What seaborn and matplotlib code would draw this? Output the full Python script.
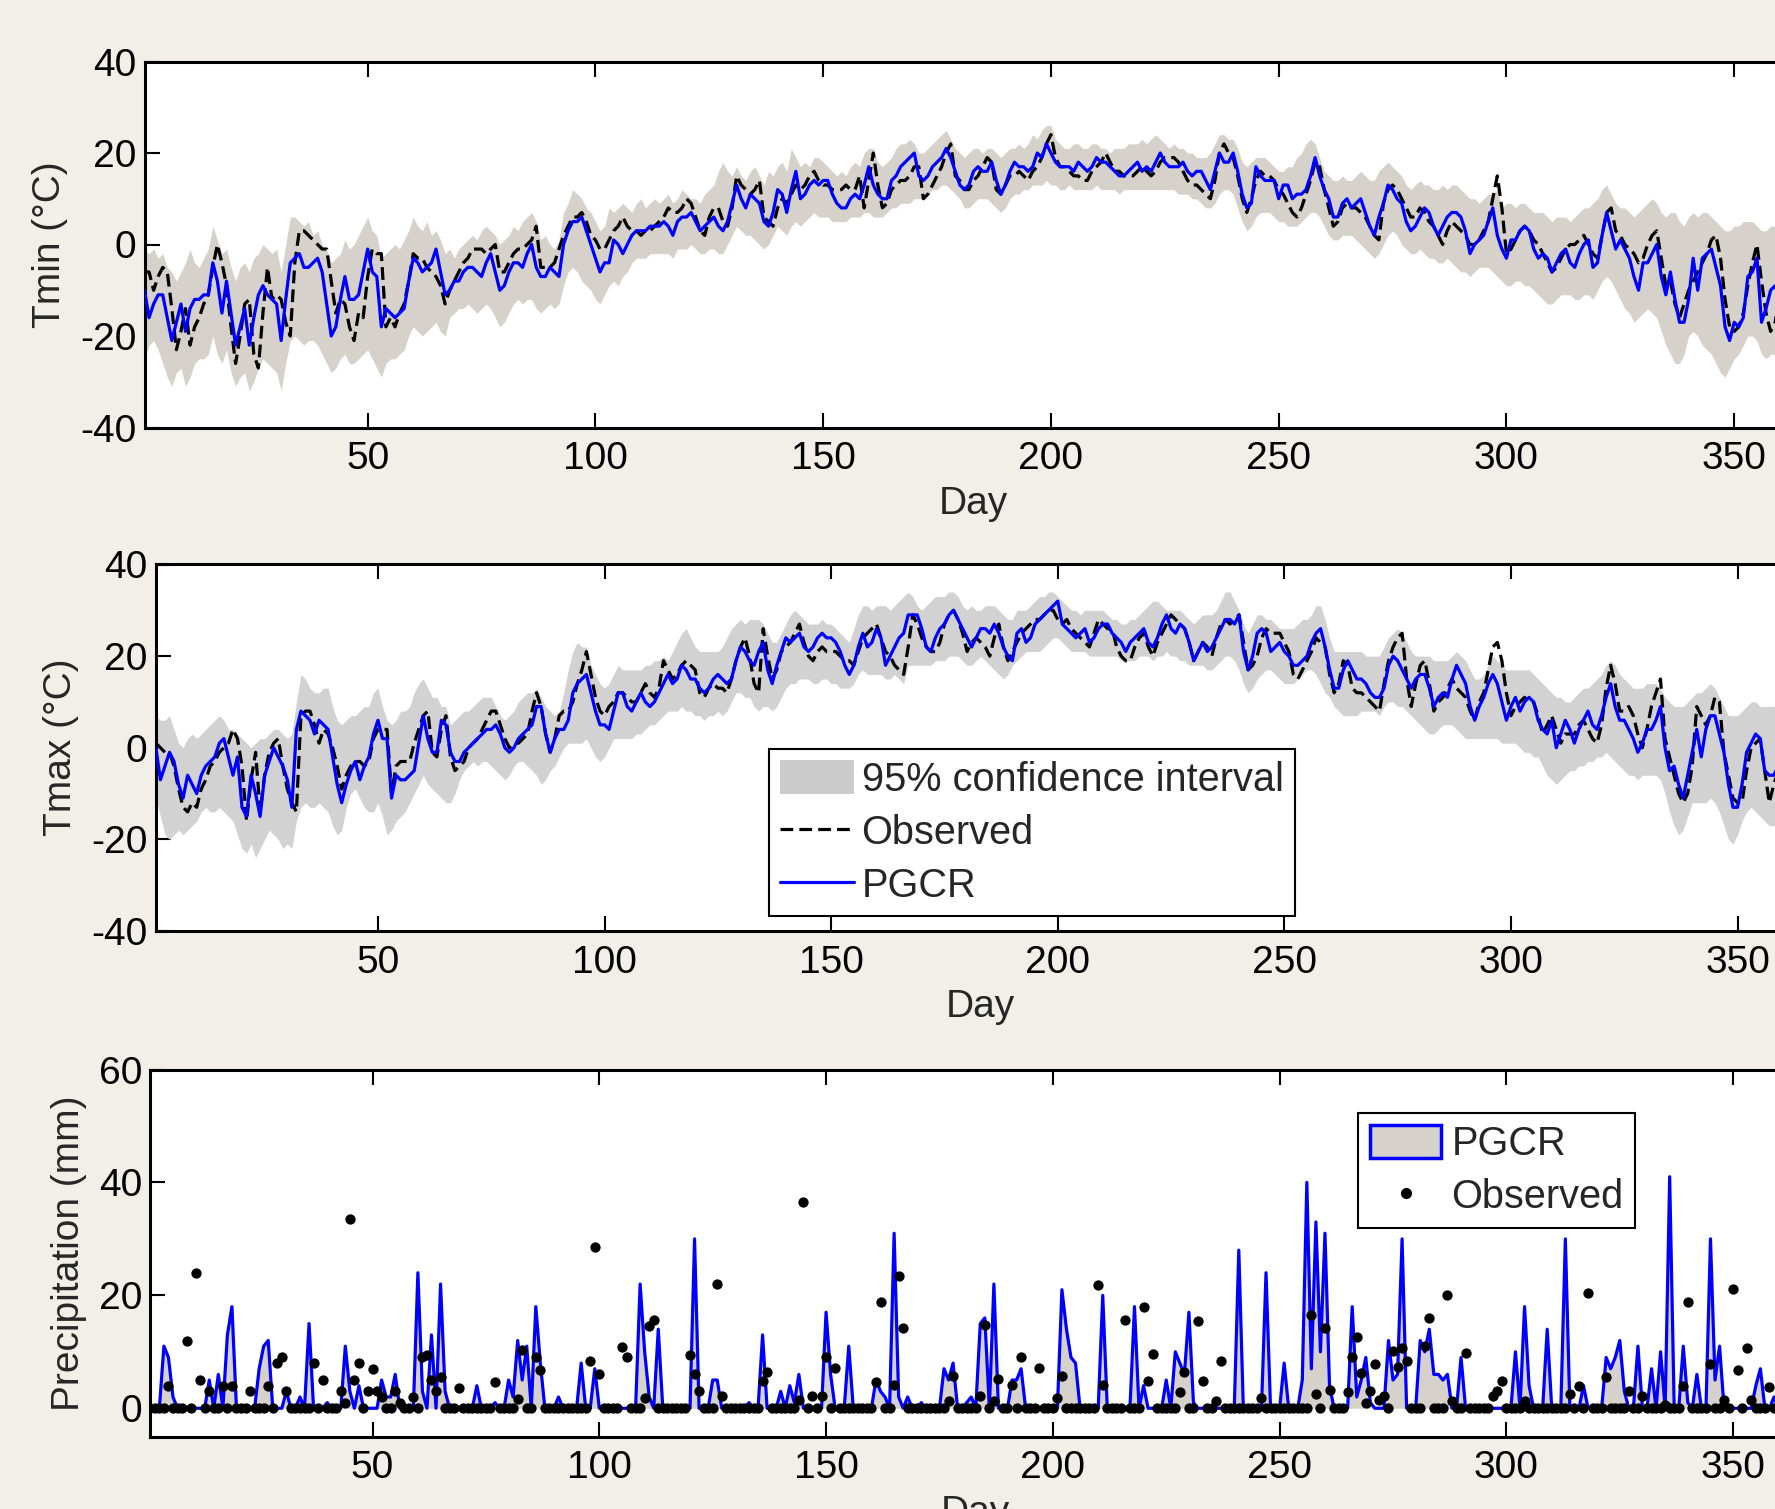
import numpy as np
import pandas as pd
import matplotlib
matplotlib.use('Agg')
import matplotlib.pyplot as plt
import seaborn as sns
from matplotlib.patches import Patch
from matplotlib.lines import Line2D

# ---- daily values (day 1 .. 365) ----
tmin_pgcr = [
    -10,-16,-13,-11,-11,-16,-21,-17,-13,-19,-14,-12,-12,-11,-11,-4,-8,-15,-8,-15,
    -22,-18,-14,-22,-16,-11,-9,-11,-12,-13,-21,-12,-4,-3,-2,-5,-5,-4,-3,-6,
    -13,-20,-18,-12,-7,-12,-12,-11,-6,-1,-6,-7,-18,-14,-15,-16,-15,-14,-8,-3,
    -4,-6,-5,-4,-1,-6,-11,-10,-8,-8,-6,-5,-5,-6,-7,-4,-2,-6,-10,-9,
    -6,-4,-4,-5,-2,0,-5,-7,-7,-5,-6,-7,0,3,5,5,6,3,0,-3,
    -6,-4,-4,1,0,-2,0,2,3,3,3,4,4,4,5,4,2,5,6,6,
    7,5,3,4,5,6,4,3,5,9,13,10,8,11,10,9,5,4,7,12,
    11,7,12,16,10,11,13,14,13,14,14,11,9,8,8,10,11,10,13,17,
    13,11,10,10,14,15,17,18,19,20,15,14,15,17,18,19,21,19,16,13,
    12,13,16,17,16,16,18,14,11,13,16,18,17,17,16,17,20,19,22,20,
    18,17,17,17,16,18,17,16,17,19,18,18,17,16,15,15,16,17,18,16,
    17,16,18,20,18,17,17,17,18,16,15,16,16,14,12,16,20,18,18,20,
    16,11,8,9,17,15,14,14,14,10,13,13,10,11,11,12,15,19,15,12,
    10,6,6,9,10,8,9,10,7,4,2,6,9,13,12,10,9,5,3,4,
    6,8,7,4,2,4,6,7,7,6,3,-2,0,1,2,5,8,2,-1,-3,
    1,1,3,4,3,-1,-3,-2,-3,-6,-4,-2,-1,-4,-5,-2,0,1,-5,-4,
    2,7,3,-1,1,-1,-3,-7,-10,-4,-4,-2,0,-7,-11,-6,-12,-17,-17,-12,
    -3,-10,-3,-2,-1,-5,-9,-18,-21,-17,-18,-16,-7,-6,-3,-17,-14,-10,-9,-12,
    -14,-12,-10,-11,-12]

tmin_obs = [
    -6,-6,-10,-7,-5,-6,-14,-23,-19,-14,-22,-18,-16,-13,-11,-5,0,-4,-9,-18,
    -26,-20,-13,-12,-24,-27,-15,-5,-12,-11,-12,-17,-20,-4,3,3,2,1,0,-1,
    -1,-8,-15,-12,-13,-18,-21,-15,-16,-7,-1,-2,-2,-18,-16,-18,-15,-13,-8,-2,
    -3,-3,-5,-6,-7,-9,-13,-10,-8,-6,-4,-3,-1,-1,-1,-2,-1,0,-6,-6,
    -4,-2,-1,-1,0,1,4,-5,-5,-5,-4,-1,2,4,6,6,7,5,2,1,
    -1,-1,1,3,4,6,4,3,3,2,3,3,4,5,6,8,7,7,8,10,
    9,6,3,2,6,8,8,5,4,8,15,13,12,11,12,14,6,5,4,8,
    10,9,11,13,12,13,15,16,14,13,13,12,12,12,13,12,12,15,8,14,
    20,13,8,9,12,13,14,14,15,17,17,10,11,13,15,17,20,22,15,14,
    12,12,14,15,17,19,18,12,11,13,15,15,16,15,14,16,17,19,22,24,
    19,17,17,16,15,15,14,14,16,17,18,20,18,16,16,15,15,15,16,17,
    16,15,16,18,19,19,19,18,16,14,13,13,12,11,10,14,20,22,20,19,
    15,10,7,10,14,16,15,15,14,12,11,9,7,6,8,11,14,18,17,12,
    8,4,5,8,9,8,8,7,6,4,2,1,9,12,13,12,10,8,6,6,
    8,7,5,4,2,0,3,5,4,3,2,0,0,1,3,5,10,15,8,-2,
    -1,1,3,4,3,1,0,-2,-4,-6,-5,-3,-1,0,0,1,2,0,-2,-3,
    2,7,8,3,2,0,-1,-2,-4,-3,0,2,3,-3,-9,-8,-13,-16,-13,-10,
    -8,-6,-4,-2,1,2,-3,-12,-18,-19,-18,-15,-9,-4,0,-8,-15,-19,-17,-10,
    -12,-13,-11,-10,-11]

tmin_hi = [
    -1,-2,-1,-3,-2,-5,-6,-8,-6,-4,-1,-4,-5,-3,-1,4,1,-2,-1,-5,
    -8,-5,-4,-6,-3,-2,0,-1,-2,-1,-6,0,6,6,5,4,5,2,3,0,
    -1,-4,-3,-2,1,-1,0,2,4,6,3,2,-3,-2,-1,0,-1,1,3,6,
    4,3,5,2,3,1,-2,-1,-3,-1,0,1,2,1,3,4,3,2,0,1,
    2,4,3,5,6,7,5,1,2,0,-1,1,7,9,12,11,10,8,7,5,
    3,4,8,7,8,9,8,7,9,10,8,9,10,9,10,11,9,10,12,11,
    10,10,9,11,12,13,16,18,16,15,17,15,14,16,17,15,13,16,15,17,
    18,16,21,19,17,18,17,19,19,18,17,16,15,16,15,17,18,17,20,21,
    21,18,17,18,19,21,22,22,23,22,20,20,21,22,23,24,25,23,21,20,
    19,20,21,21,20,21,21,20,19,20,21,21,22,21,22,24,23,25,26,26,
    23,22,21,21,22,22,21,21,22,22,21,21,20,21,21,21,22,22,22,23,
    22,23,24,23,22,21,22,21,21,20,20,19,19,19,20,22,24,24,23,23,
    21,18,17,18,19,19,19,18,17,16,16,17,17,19,20,22,23,22,19,16,
    15,14,14,15,14,14,15,16,15,14,14,16,17,18,17,16,15,13,12,13,
    14,13,13,12,12,13,12,13,13,12,11,10,10,9,10,11,11,12,8,9,
    9,8,9,9,8,7,7,7,6,5,6,6,6,5,6,7,8,8,9,10,
    12,13,11,9,8,8,7,6,7,8,9,10,9,7,6,7,7,5,4,6,
    7,6,7,7,6,5,4,3,3,4,4,5,5,5,4,3,3,4,4,3,
    3,3,3,3,3]

tmin_lo = [
    -25,-22,-21,-23,-26,-29,-31,-28,-27,-31,-29,-26,-25,-25,-24,-20,-24,-26,-23,-28,
    -31,-29,-28,-32,-30,-27,-25,-26,-27,-28,-32,-26,-21,-20,-21,-22,-21,-21,-22,-24,
    -26,-28,-27,-25,-24,-26,-26,-25,-24,-23,-25,-27,-29,-26,-25,-25,-24,-23,-20,-18,
    -19,-20,-19,-18,-17,-19,-20,-16,-15,-14,-14,-13,-14,-15,-14,-13,-14,-16,-18,-17,
    -15,-13,-12,-13,-12,-12,-14,-15,-14,-13,-14,-13,-9,-6,-5,-6,-8,-9,-10,-12,
    -13,-11,-9,-8,-9,-7,-6,-4,-3,-3,-3,-2,-2,-2,-2,-2,-3,-1,-1,-1,
    0,-1,-2,-2,-1,-1,-2,-2,0,2,4,3,2,2,1,0,-1,0,2,4,
    3,2,4,5,4,5,6,7,6,6,6,5,5,5,5,6,6,6,7,7,
    6,6,6,7,8,8,9,9,9,10,10,10,11,12,12,13,13,12,11,10,
    8,8,9,10,10,10,9,8,7,8,10,11,11,12,12,13,13,13,14,13,
    13,12,12,13,12,12,12,12,12,13,12,12,12,12,11,12,12,12,12,12,
    12,12,12,12,12,12,12,11,11,11,10,10,9,8,8,9,11,12,12,11,
    8,5,3,4,6,7,7,7,6,5,5,4,4,4,5,6,7,7,6,4,
    2,1,1,2,2,2,1,0,-1,-2,-3,-2,0,2,3,2,0,-1,-2,-2,
    -1,-2,-3,-3,-4,-4,-3,-4,-5,-6,-6,-7,-6,-5,-5,-5,-6,-7,-8,-9,
    -9,-8,-8,-9,-9,-10,-11,-12,-13,-13,-12,-11,-11,-11,-12,-12,-11,-11,-12,-10,
    -8,-7,-8,-10,-12,-14,-15,-17,-16,-15,-14,-15,-16,-19,-22,-24,-26,-26,-24,-20,
    -19,-20,-22,-23,-24,-26,-28,-29,-27,-25,-24,-22,-20,-20,-21,-24,-25,-24,-24,-25,
    -25,-25,-25,-25,-25]

tmax_pgcr = [
    0,-7,-4,-1,-3,-8,-11,-6,-8,-10,-6,-4,-3,-2,1,2,-2,-6,-2,-13,
    -15,-6,-10,-15,-6,-3,0,-2,-4,-7,-13,4,8,7,6,3,6,5,4,-2,
    -8,-12,-8,-5,-3,-7,-4,-2,3,6,2,2,-11,-6,-7,-7,-6,-5,1,7,
    2,-1,-1,6,5,-1,-3,-3,-1,0,1,2,3,4,4,5,3,0,-1,0,
    2,3,4,5,9,9,3,-1,2,4,4,6,12,14,15,16,12,8,5,5,
    4,8,12,12,9,8,10,12,10,9,10,12,14,16,14,15,18,17,15,15,
    13,12,13,15,16,15,14,15,19,22,21,19,18,21,23,17,14,18,21,24,
    23,24,25,22,21,22,24,25,24,24,23,21,18,16,18,22,25,22,23,26,
    24,18,20,22,24,25,29,29,29,26,22,21,24,26,27,29,30,28,26,24,
    22,24,26,26,25,27,25,22,20,19,25,26,23,24,27,28,29,30,31,32,
    27,26,25,24,25,26,23,24,26,27,27,25,24,23,21,23,24,25,26,23,
    22,24,27,29,26,25,27,26,23,19,21,23,21,22,24,26,28,28,27,29,
    21,17,20,25,26,25,21,22,23,21,20,18,18,19,20,23,25,26,22,17,
    13,13,17,19,17,15,15,14,12,11,11,13,18,20,19,17,15,13,15,16,
    16,13,9,11,12,11,15,18,16,14,9,6,9,11,14,16,14,10,6,9,
    11,8,10,11,10,6,4,3,6,0,3,6,4,1,4,6,8,5,4,7,
    11,14,9,6,6,4,2,-1,1,4,4,6,9,0,-5,-4,-8,-11,-6,-1,
    4,-2,4,7,7,3,-1,-8,-13,-13,-8,-1,1,3,2,-5,-6,-6,-4,-3,
    -4,-5,-5,-5,-5]

tmax_obs = [
    1,0,-1,-1,-4,-9,-13,-14,-12,-13,-9,-7,-4,-3,-1,0,1,4,2,-4,
    -16,-7,-1,-14,-6,-1,1,2,-4,-9,-12,-14,7,8,8,5,1,4,3,0,
    -4,-9,-6,-4,-3,-3,-4,-3,2,4,4,4,-10,-4,-3,-3,-3,1,4,7,
    8,-1,-2,4,7,-2,-5,-4,-3,0,1,2,4,6,8,8,5,2,0,1,
    1,2,3,8,12,9,3,-1,2,7,8,8,10,14,17,21,16,11,8,7,
    9,10,12,12,11,10,10,12,14,12,11,13,19,17,15,16,18,19,18,17,
    12,11,13,14,13,13,12,15,19,22,24,20,14,12,26,20,15,17,21,22,
    23,25,27,23,20,19,21,22,21,21,21,20,19,19,18,21,24,25,26,27,
    24,21,20,18,17,16,22,29,27,24,22,21,21,23,27,29,30,28,25,21,
    23,24,23,22,20,24,27,22,19,21,23,25,26,27,28,28,29,30,30,28,
    27,28,26,25,24,23,22,25,28,27,26,26,22,20,19,19,22,24,25,22,
    20,23,25,27,29,28,27,26,23,19,21,23,22,20,24,27,28,27,28,29,
    23,17,18,20,24,26,25,25,25,23,21,16,15,17,19,21,24,23,22,16,
    12,14,19,18,13,12,12,11,10,9,8,14,19,22,24,25,15,9,14,18,
    19,14,8,10,11,13,15,13,12,11,8,6,10,12,17,22,23,19,12,7,
    9,10,11,10,10,7,3,5,7,4,1,3,3,3,5,6,4,2,1,5,
    13,18,14,8,8,9,7,3,0,4,9,12,15,2,-2,-6,-10,-12,-10,-4,
    9,7,5,7,11,10,-1,-6,-11,-12,-12,-5,0,1,2,-5,-12,-8,-5,-4,
    -5,-6,-6,-6,-6]

tmax_hi = [
    7,6,6,7,4,1,0,2,3,2,3,4,5,6,7,6,4,4,3,2,
    1,0,1,2,2,3,4,4,3,2,3,10,16,15,13,12,12,13,13,9,
    6,5,6,7,7,8,9,9,12,13,9,6,5,6,8,8,9,12,14,15,
    13,11,11,9,9,5,6,7,8,8,9,10,11,11,11,9,7,6,7,8,
    10,11,12,12,13,11,9,8,7,8,12,17,21,23,22,22,18,16,14,13,
    14,16,18,17,17,17,17,17,18,18,19,19,20,19,21,23,25,26,24,22,
    21,21,21,21,21,22,24,26,27,28,27,28,28,28,27,25,23,23,25,27,
    29,30,29,28,27,27,27,28,27,27,26,25,24,23,26,29,31,31,30,31,
    31,31,30,31,32,33,34,33,31,30,31,32,33,33,33,34,34,33,31,30,
    31,30,30,31,31,31,30,29,28,28,30,30,30,31,32,33,33,34,34,33,
    32,31,30,30,29,30,30,30,30,30,29,28,28,27,27,28,28,29,30,31,
    32,32,31,30,30,30,30,29,28,27,28,29,29,29,30,32,34,34,32,30,
    27,25,27,29,29,28,28,27,26,26,26,26,27,28,28,29,31,31,28,24,
    21,21,21,21,21,21,21,20,20,20,20,22,24,25,26,25,23,21,20,20,
    20,20,19,19,19,19,20,21,20,19,17,15,15,16,18,20,19,18,17,17,
    17,17,17,17,16,15,14,13,12,11,11,10,10,11,12,13,13,14,15,16,
    18,19,18,16,15,14,13,13,13,14,14,14,13,11,10,9,9,9,10,11,
    12,12,13,14,13,11,9,7,7,7,8,9,10,10,9,9,9,9,9,9,
    9,9,9,9,9]

tmax_lo = [
    -11,-15,-19,-20,-19,-18,-19,-18,-17,-16,-14,-13,-14,-14,-13,-14,-15,-16,-19,-22,
    -23,-21,-24,-22,-20,-18,-19,-20,-22,-21,-22,-16,-13,-12,-13,-13,-12,-13,-14,-17,
    -19,-18,-13,-10,-9,-11,-13,-14,-14,-12,-15,-19,-18,-16,-15,-14,-12,-10,-8,-6,
    -8,-9,-10,-11,-12,-12,-10,-7,-5,-4,-3,-4,-3,-3,-4,-5,-6,-7,-6,-4,
    -3,-3,-4,-5,-6,-8,-7,-5,-4,-2,0,1,1,1,1,2,0,-2,-3,-2,
    0,2,2,2,2,2,3,3,4,5,5,6,7,8,8,8,9,8,8,7,
    7,6,7,7,8,7,8,10,12,12,11,11,9,8,9,9,8,9,11,13,
    14,14,15,15,15,14,14,15,15,14,14,13,13,13,14,16,17,16,16,16,
    16,15,15,16,15,14,18,18,18,18,18,18,19,19,19,20,20,20,19,18,
    18,19,20,19,18,17,16,15,16,18,19,20,21,21,21,21,22,23,24,24,
    23,22,21,21,21,21,20,20,20,20,20,20,20,19,19,19,19,20,20,20,
    19,20,20,21,20,20,19,19,18,18,18,18,17,17,18,19,20,20,19,17,
    14,12,13,15,16,17,17,16,15,14,14,14,15,16,17,17,16,14,12,11,
    9,8,7,7,7,7,8,8,8,8,7,9,10,10,9,9,8,7,6,5,
    4,3,3,4,5,5,5,4,3,2,2,2,2,2,2,2,2,1,1,1,
    1,0,-1,-1,-2,-2,-4,-6,-7,-8,-7,-6,-5,-5,-4,-4,-3,-3,-2,-2,
    -1,-2,-3,-4,-5,-6,-6,-7,-6,-6,-6,-6,-7,-10,-14,-17,-19,-18,-15,-12,
    -12,-12,-12,-11,-12,-14,-17,-20,-21,-19,-16,-14,-13,-14,-15,-16,-17,-17,-17,-17,
    -17,-17,-17,-17,-17]

# precipitation: days with rain and the amount (mm); all other days are 0
precip_pgcr_days = [
    4,5,6,14,16,18,19,25,26,27,31,34,36,40,44,45,47,52,53,54,
    55,60,61,63,65,66,73,77,80,81,82,83,84,86,87,91,96,99,109,110,
    111,113,121,125,126,133,136,140,142,143,144,150,151,155,161,162,163,165,166,168,
    171,176,177,178,181,182,184,185,187,191,192,193,202,203,204,205,211,218,220,225,
    227,228,229,230,231,241,247,251,255,256,257,258,259,260,261,266,267,268,269,270,
    274,275,276,277,281,282,283,284,285,286,287,290,302,304,305,309,313,317,322,323,
    324,325,326,329,332,334,336,339,340,342,345,346,347,355,356,359]
precip_pgcr_mm = [
    11,9,2,5,6,13,18,7,11,12,3,2,15,1,11,3,4,5,2,2,
    6,24,3,13,22,3,4,1,5,2,12,5,11,18,8,2,8,7,22,10,
    2,14,30,5,5,1,13,3,4,1,6,17,6,11,5,3,2,31,2,2,
    1,7,5,8,1,2,15,16,22,5,5,7,21,14,9,8,20,18,4,5,
    10,8,6,17,1,28,24,8,5,40,7,33,10,31,4,18,2,5,9,1,
    12,5,6,30,12,10,14,6,6,5,6,9,10,18,4,14,30,4,9,7,
    9,12,3,11,7,10,41,11,1,6,30,5,11,4,7,2]

precip_obs_days = [
    5,9,11,12,14, 17,19,23,27,29, 30,31,37,39,43, 44,45,46,47,49,
    50,51,52,55,56, 59,61,62,63,64, 65,69,77,82,83, 86,87,98,99,100,
    105,106,110,111,112, 120,121,122,126,127, 136,137,144,145,147, 149,150,152,161,162,
    165,166,167,177,178, 184,185,187,188,191, 193,197,201,202,210, 211,216,220,221,222,
    228,229,232,233,236, 237,246,257,258,260, 261,265,266,267,268, 269,270,271,272,273,
    275,276,277,278,282, 283,287,288,291,297, 298,299,304,314,316, 318,322,327,330,335,
    339,340,345,348,350, 351,353,354,358]
precip_obs_mm = [
    4,12,24,5,3, 4,4,3,4,8, 9,3,8,5,3, 1,33.5,5,8,3,
    7,3,2,3,1, 2,9,9.5,5,3, 5.5,3.6,4.6,1.6,10.4, 9,6.7,8.4,28.6,6.1,
    10.8,9,1.9,14.6,15.6, 9.5,6.1,3,22,2.2, 4.8,6.4,1.5,36.5,2.2, 2.2,9.1,7.1,4.6,18.8,
    4.2,23.4,14.3,1.2,5.8, 2.2,14.7,1.2,5.2,4.2, 9,7.1,1.8,5.8,21.8, 4.2,15.6,17.9,4.8,9.7,
    2.9,6.5,15.5,4.9,1.2, 8.4,1.8,16.6,2.5,14.3, 3.2,2.9,9.1,12.6,6.3, 0.9,3.1,7.8,1.5,2.1,
    10.1,7.3,10.7,8.4,11, 15.9,20.1,1.2,9.8,2.2, 3.1,4.8,1.2,2.5,3.9, 20.4,5.5,3.1,2.1,0.5,
    3.9,18.8,7.8,1.4,21.1, 6.8,10.7,1.4,3.8]

day_ticks = [50, 100, 150, 200, 250, 300, 350]

for s in [tmin_pgcr, tmin_obs, tmin_hi, tmin_lo, tmax_pgcr, tmax_obs, tmax_hi, tmax_lo]:
    assert len(s) == 365, len(s)
assert len(precip_pgcr_days) == len(precip_pgcr_mm)
assert len(precip_obs_days) == len(precip_obs_mm)

days = np.arange(1, 366)
pgcr_mm = np.zeros(365)
pgcr_mm[np.array(precip_pgcr_days) - 1] = precip_pgcr_mm
obs_mm = np.zeros(365)
obs_mm[np.array(precip_obs_days) - 1] = precip_obs_mm

# ---- style ----
sns.set_style('ticks')
plt.rcParams['font.family'] = ['Liberation Sans', 'DejaVu Sans']
plt.rcParams['font.size'] = 28
plt.rcParams['axes.unicode_minus'] = False
plt.rcParams['axes.edgecolor'] = 'black'
plt.rcParams['xtick.color'] = 'black'
plt.rcParams['ytick.color'] = 'black'

BG = '#F2EFE8'
WARM = '#D6D2CB'
GREY = '#D2D2D2'
LW = 2.3
DASH = (4.0, 1.9)
FS = 28

W, H = 1775, 1509
fig = plt.figure(figsize=(W / 100, H / 100), dpi=100, facecolor=BG)


def px_axes(left, top, right, bottom):
    return fig.add_axes([left / W, 1 - bottom / H, (right - left) / W, (bottom - top) / H])


ax1 = px_axes(144.5, 61.5, 1802.5, 427.5)
ax2 = px_axes(155.9, 564.5, 1805.5, 931)
ax3 = px_axes(150.3, 1069.5, 1801.2, 1436.5)


def style_axis(ax, ylim, yticks, ylabel, ylabelpad):
    ax.set_facecolor('white')
    ax.set_xlim(1, 365)
    ax.set_ylim(*ylim)
    ax.set_xticks(day_ticks)
    ax.set_yticks(yticks)
    ax.tick_params(direction='in', length=11, width=1.5, top=True, right=True,
                   labelsize=FS)
    ax.tick_params(axis='x', pad=10)
    ax.tick_params(axis='y', pad=6)
    for sp in ax.spines.values():
        sp.set_visible(True)
        sp.set_linewidth(2.2)
    ax.set_xlabel('Day', fontsize=FS, labelpad=6)
    ax.set_ylabel(ylabel, fontsize=FS, labelpad=ylabelpad)


def temp_panel(ax, obs, pgcr, lo, hi, band):
    df = pd.DataFrame({'day': days, 'obs': obs, 'pgcr': pgcr, 'lo': lo, 'hi': hi})
    ax.fill_between(df['day'], df['lo'], df['hi'], color=band, linewidth=0, zorder=1)
    sns.lineplot(data=df, x='day', y='obs', ax=ax, color='black', linewidth=LW, zorder=2)
    ax.lines[-1].set_dashes(DASH)
    sns.lineplot(data=df, x='day', y='pgcr', ax=ax, color='blue', linewidth=LW, zorder=3)


temp_panel(ax1, tmin_obs, tmin_pgcr, tmin_lo, tmin_hi, WARM)
style_axis(ax1, (-40, 40), [-40, -20, 0, 20, 40], 'Tmin (°C)', 8.5)

temp_panel(ax2, tmax_obs, tmax_pgcr, tmax_lo, tmax_hi, GREY)
style_axis(ax2, (-40, 40), [-40, -20, 0, 20, 40], 'Tmax (°C)', 8.5)

# precipitation panel
pr = pd.DataFrame({'day': days, 'pgcr': pgcr_mm, 'obs': obs_mm})
ax3.fill_between(pr['day'], 0, pr['pgcr'], color=WARM, linewidth=0, zorder=1)
sns.lineplot(data=pr, x='day', y='pgcr', ax=ax3, color='blue', linewidth=LW, zorder=2)
sns.scatterplot(data=pr, x='day', y='obs', ax=ax3, color='black', s=55,
                linewidth=0, zorder=3)
style_axis(ax3, (-5, 60), [0, 20, 40, 60], 'Precipitation (mm)', 8.5)

# legends
LFS = 28.6
leg_kw = dict(loc='upper left', bbox_transform=fig.transFigure, frameon=True,
              fancybox=False, framealpha=1, edgecolor='black', fontsize=LFS,
              borderaxespad=0)

h2 = [Patch(facecolor='#CCCCCC', edgecolor='none', label='95% confidence interval'),
      Line2D([], [], color='black', lw=LW, dashes=DASH, label='Observed'),
      Line2D([], [], color='blue', lw=LW, label='PGCR')]
leg2 = ax2.legend(handles=h2, bbox_to_anchor=(769 / W, 1 - 749 / H),
                  handlelength=1.85, handleheight=0.95, handletextpad=0.2,
                  borderpad=0.28, labelspacing=0.36, **leg_kw)
leg2.get_frame().set_linewidth(1.5)

h3 = [Patch(facecolor=WARM, edgecolor='blue', linewidth=2.5, label='PGCR'),
      Line2D([], [], color='black', marker='o', markersize=7, linestyle='None',
             label='Observed')]
leg3 = ax3.legend(handles=h3, bbox_to_anchor=(1358 / W, 1 - 1113 / H),
                  handlelength=1.8, handleheight=0.9, handletextpad=0.25,
                  borderpad=0.3, labelspacing=0.36, **leg_kw)
leg3.get_frame().set_linewidth(1.5)

fig.savefig('out.png', dpi=100, facecolor=fig.get_facecolor())
plt.close(fig)
